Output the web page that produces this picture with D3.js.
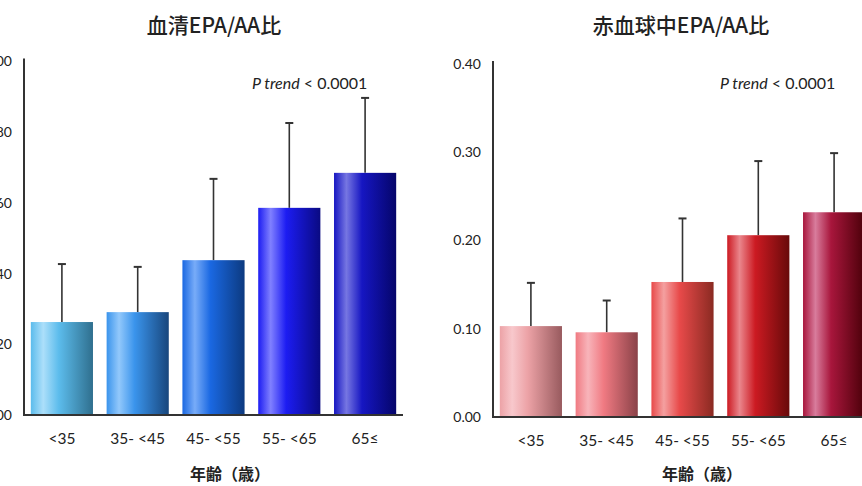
<!DOCTYPE html>
<html><head><meta charset="utf-8">
<script src="https://cdn.jsdelivr.net/npm/d3@7"></script>
<style>
body{margin:0;background:#fff;}
svg{display:block;}
text{font-family:Lato,"Noto Sans CJK JP",sans-serif;fill:#222;}
.cjk{font-family:"Noto Sans CJK JP",sans-serif;}
</style></head><body>
<svg id="c" width="862" height="486"></svg>
<script>
const categories = ["<35", "35- <45", "45- <55", "55- <65", "65≤"];
const serumMean = [0.263, 0.291, 0.438, 0.586, 0.685];
const serumSD   = [0.164, 0.128, 0.230, 0.240, 0.212];
const rbcMean   = [0.103, 0.096, 0.153, 0.206, 0.232];
const rbcSD     = [0.049, 0.036, 0.072, 0.084, 0.067];
const serumTicks = [0, 0.2, 0.4, 0.6, 0.8, 1.0];
const rbcTicks   = [0, 0.1, 0.2, 0.3, 0.4];
const serumColors = [
  ["#5cbcec","#acdffa","#2f6f8e"],
  ["#3a94ec","#92c8fb","#18467c"],
  ["#1a68e2","#78acf8","#0c3a80"],
  ["#1c1cf2","#8080ff","#0a0a82"],
  ["#1616c2","#7676e2","#05056a"]];
const rbcColors = [
  ["#eca2a6","#f8c8cc","#985a5e"],
  ["#f07a82","#f8b4ba","#8a4248"],
  ["#e84a4a","#f4a0a0","#8a2a22"],
  ["#cc1a22","#ea868c","#680a0a"],
  ["#a8163c","#d87c9c","#4a0008"]];

const svg = d3.select("#c");
const defs = svg.append("defs");

function panel(o){
  const g = svg.append("g");
  const x = d3.scaleBand().domain(categories).range([o.x0, o.x0 + 379]).paddingInner(0.18).paddingOuter(0.09);
  const y = d3.scaleLinear().domain(o.domain).range([o.yBottom, o.yTop]);
  o.colors.forEach((c,i)=>{
    const gr = defs.append("linearGradient").attr("id", o.id+"g"+i).attr("x1","0").attr("x2","1").attr("y1","0").attr("y2","0");
    gr.append("stop").attr("offset","0").attr("stop-color", c[0]);
    gr.append("stop").attr("offset","0.2").attr("stop-color", c[1]);
    gr.append("stop").attr("offset","0.45").attr("stop-color", c[0]);
    gr.append("stop").attr("offset","1").attr("stop-color", c[2]);
  });
  const eb = g.append("g").attr("stroke","#333").attr("stroke-width",1.6);
  categories.forEach((cat,i)=>{
    const cx = x(cat) + x.bandwidth()/2;
    const top = y(o.mean[i] + o.sd[i]);
    eb.append("line").attr("x1",cx).attr("x2",cx).attr("y1",y(o.mean[i])).attr("y2",top);
    eb.append("line").attr("x1",cx-4).attr("x2",cx+4).attr("y1",top).attr("y2",top).attr("stroke-width",2);
  });
  g.selectAll("rect.bar").data(categories).enter().append("rect")
    .attr("x", d=>x(d)).attr("width", x.bandwidth())
    .attr("y", (d,i)=>y(o.mean[i])).attr("height", (d,i)=>y(0)-y(o.mean[i]))
    .attr("fill", (d,i)=>`url(#${o.id}g${i})`);
  const ya = g.append("g").attr("transform",`translate(${o.x0},0)`)
    .call(d3.axisLeft(y).tickValues(o.ticks).tickFormat(d3.format(".2f")).tickSize(0).tickPadding(12));
  ya.select(".domain").remove();
  ya.selectAll("text").attr("font-size",14).attr("fill","#222");
  g.append("line").attr("x1",o.x0).attr("x2",o.x0).attr("y1",o.yTop-3).attr("y2",y(0)+1)
    .attr("stroke","#333").attr("stroke-width",2);
  g.append("line").attr("x1",o.x0-1).attr("x2",o.xEnd).attr("y1",y(0)).attr("y2",y(0))
    .attr("stroke","#333").attr("stroke-width",2);
  const xa = g.append("g").attr("transform",`translate(0,${y(0)})`)
    .call(d3.axisBottom(x).tickSize(0).tickPadding(18));
  xa.select(".domain").remove();
  xa.selectAll("text").attr("font-size",15.5).attr("fill","#333");
  g.append("text").attr("class","cjk").attr("x",o.titleX).attr("y",33).attr("text-anchor","middle")
    .attr("font-size",21).attr("font-weight",500).text(o.title);
  g.append("text").attr("class","cjk").attr("x",o.axTitleX).attr("y",480).attr("text-anchor","middle")
    .attr("font-size",16).attr("font-weight",700).attr("fill","#333").text("年齢（歳）");
  const pt = g.append("text").attr("x",o.pX).attr("y",o.pY).attr("font-size",16).attr("fill","#222");
  pt.append("tspan").attr("font-style","italic").text("P trend");
  pt.append("tspan").text(" < 0.0001");
}

panel({id:"s", x0:24, xEnd:403, domain:[0,1], yBottom:415, yTop:61.5, ticks:serumTicks,
  mean:serumMean, sd:serumSD, colors:serumColors, title:"血清EPA/AA比", titleX:214, axTitleX:230, pX:252, pY:89});
panel({id:"r", x0:493, xEnd:862, domain:[0,0.4], yBottom:417, yTop:64, ticks:rbcTicks,
  mean:rbcMean, sd:rbcSD, colors:rbcColors, title:"赤血球中EPA/AA比", titleX:681, axTitleX:702, pX:720, pY:89});
</script></body></html>
